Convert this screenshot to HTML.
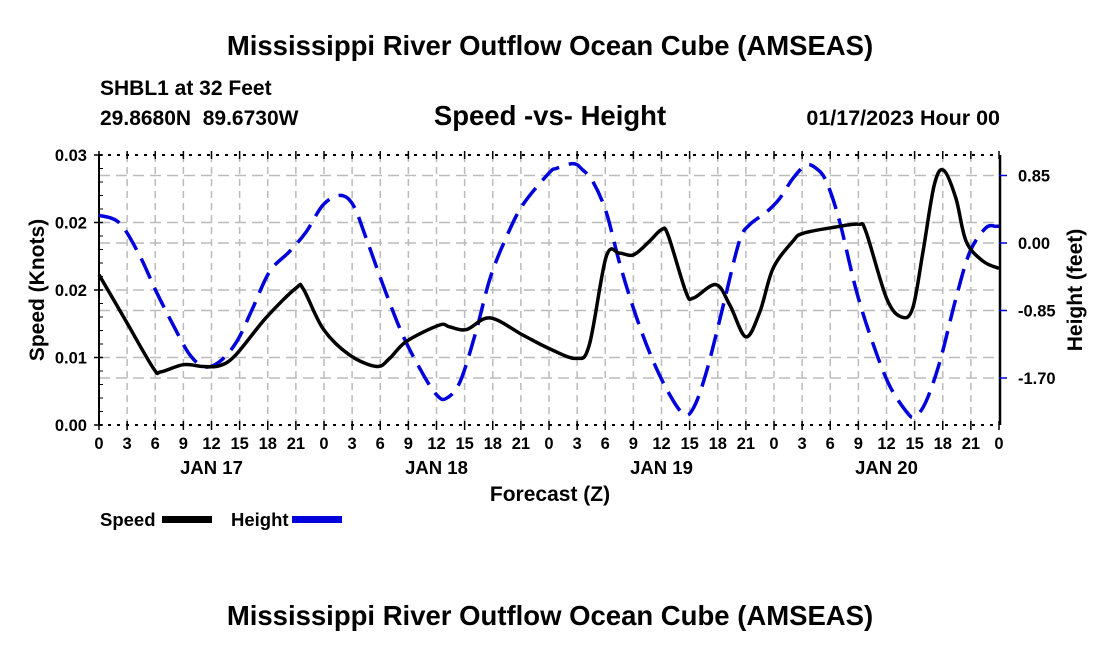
<!DOCTYPE html>
<html><head><meta charset="utf-8"><style>
body{margin:0;background:#fff;}
svg{display:block;font-family:"Liberation Sans",Arial,sans-serif;font-weight:bold;}
</style></head><body>
<svg id="chart" width="1100" height="650" viewBox="0 0 1100 650">
<text x="550" y="55" text-anchor="middle" font-size="27.5">Mississippi River Outflow Ocean Cube (AMSEAS)</text>
<text x="100" y="95" font-size="21">SHBL1 at 32 Feet</text>
<text x="100" y="125" font-size="21" xml:space="preserve">29.8680N  89.6730W</text>
<text x="550" y="125" text-anchor="middle" font-size="27.5">Speed -vs- Height</text>
<text x="1000" y="125" text-anchor="end" font-size="21.5">01/17/2023 Hour 00</text>
<g id="grid"></g>
<g id="axes"></g>
<g id="series"></g>
<text x="550" y="501" text-anchor="middle" font-size="21">Forecast (Z)</text>
<text transform="translate(44,290) rotate(-90)" text-anchor="middle" font-size="21">Speed (Knots)</text>
<text transform="translate(1082,290) rotate(-90)" text-anchor="middle" font-size="21">Height (feet)</text>
<g>
<text x="100" y="526" font-size="18.5">Speed</text>
<rect x="162" y="516" width="50" height="7" fill="#000"/>
<text x="231" y="526" font-size="18.5">Height</text>
<rect x="292" y="516" width="50" height="7" fill="#0000dd"/>
</g>
<text x="550" y="625" text-anchor="middle" font-size="27.5">Mississippi River Outflow Ocean Cube (AMSEAS)</text>
</svg>
<script>
const speedHours=[0,2.9,5.8,6.6,9,11.1,12.9,14.6,17.8,21.0,21.8,23.9,26.7,29.6,31,32.8,36.3,37.4,39.2,41.7,45.2,48,50.9,52.3,54.1,55.5,57.0,58.7,60.0,60.7,62.6,63.4,65.8,67.3,69.0,70.5,71.9,74.0,75.1,78.6,81.0,81.8,84.0,85.6,86.8,87.9,89.1,90.1,91.4,92.5,94.3,96];
const speedValues=[0.0167,0.0115,0.0063,0.0059,0.0067,0.0065,0.0066,0.0078,0.0119,0.0152,0.0151,0.0107,0.0078,0.0065,0.0074,0.0093,0.0111,0.0109,0.0106,0.0119,0.0100,0.0085,0.0074,0.0089,0.0187,0.0191,0.0189,0.0204,0.0217,0.0211,0.0148,0.0141,0.0156,0.0133,0.0098,0.0126,0.0174,0.0204,0.0213,0.0220,0.0223,0.0215,0.0141,0.0120,0.0130,0.0193,0.0267,0.0283,0.0252,0.0204,0.0182,0.0174];
const heightHours=[0,2.2,4.3,6.1,7.9,9.7,11.3,12.9,14.7,16.4,18.2,20.3,22.1,23.9,25.7,27.1,28.5,30.3,32.4,34.6,36.0,37.0,38.5,40.2,41.7,43.4,45.2,48.0,48.8,50.6,51.6,52.7,54.1,55.5,57.0,58.7,60.5,62.3,63.4,64.8,66.6,68.3,69.4,71.2,72.6,74.0,75.4,76.5,77.6,79.0,80.8,82.6,84.3,86.1,87.0,88.2,89.7,91.4,92.9,94.6,95.7,96];
const heightValues=[0.35,0.25,-0.15,-0.61,-1.03,-1.41,-1.56,-1.49,-1.24,-0.82,-0.36,-0.11,0.14,0.48,0.60,0.48,0.06,-0.53,-1.16,-1.66,-1.91,-1.96,-1.75,-1.12,-0.45,0.06,0.48,0.88,0.94,1.00,0.92,0.77,0.39,-0.24,-0.82,-1.37,-1.83,-2.15,-2.08,-1.62,-0.78,0.02,0.23,0.39,0.56,0.81,0.98,0.94,0.77,0.27,-0.61,-1.28,-1.79,-2.12,-2.19,-2.00,-1.49,-0.70,-0.11,0.19,0.21,0.21];
const leftTicks=[0,0.0075,0.015,0.0225,0.03];
const leftTickLabels=["0.00","0.01","0.02","0.02","0.03"];
const rightTicks=[0.85,0,-0.85,-1.70];
const rightTickLabels=["0.85","0.00","-0.85","-1.70"];
const dayLabels=["JAN 17","JAN 18","JAN 19","JAN 20"];

const X0=99,X1=999,Y0=425,Y1=155,NS="http://www.w3.org/2000/svg";
const xs=h=>X0+(h/96)*(X1-X0);
const ysL=v=>Y0-(v/0.03)*(Y0-Y1);
const ysR=v=>243-v*(67.5/0.85);
function mk(tag,attrs,parent){const e=document.createElementNS(NS,tag);for(const k in attrs)e.setAttribute(k,attrs[k]);parent.appendChild(e);return e;}
const grid=document.getElementById('grid'),axes=document.getElementById('axes'),series=document.getElementById('series');
for(let h=3;h<96;h+=3){const l=mk('line',{x1:xs(h),x2:xs(h),y1:Y1,y2:Y0,stroke:'#bbb','stroke-width':1.5,'stroke-dasharray':'7,5'},grid);

}
leftTicks.slice(1,4).forEach(v=>{const l=mk('line',{x1:X0,x2:X1,y1:ysL(v),y2:ysL(v),stroke:'#bbb','stroke-width':1.5,'stroke-dasharray':'11,6'},grid);

});
rightTicks.forEach(v=>{const l=mk('line',{x1:X0,x2:X1,y1:ysR(v),y2:ysR(v),stroke:'#bbb','stroke-width':1.5,'stroke-dasharray':'11,6'},grid);

});
[[X0,Y1,X1,Y1],[X0,Y0,X1,Y0]].forEach(p=>{const l=mk('line',{x1:p[0],y1:p[1],x2:p[2],y2:p[3],stroke:'#000','stroke-width':2,'stroke-dasharray':'3,6'},axes);

});
const la=mk('line',{x1:X0,y1:Y1,x2:X0,y2:Y0,stroke:'#000','stroke-width':2},axes);


const ra=mk('line',{x1:X1+1,y1:Y1,x2:X1+1,y2:Y0,stroke:'#000','stroke-width':2.5},axes);


for(let h=0;h<=96;h+=3){
 mk('line',{x1:xs(h),x2:xs(h),y1:Y0-4,y2:Y0+5,stroke:'#000','stroke-width':1.5},axes);
 mk('line',{x1:xs(h),x2:xs(h),y1:Y1-4,y2:Y1+4,stroke:'#000','stroke-width':1.5},axes);
 const t=mk('text',{x:xs(h),y:449,'text-anchor':'middle','font-size':16.5},axes);t.textContent=String(h%24);
 
 }
dayLabels.forEach((d,i)=>{const t=mk('text',{x:xs(12+24*i),y:474,'text-anchor':'middle','font-size':18.5},axes);t.textContent=d;

});
leftTicks.forEach((v,i)=>{mk('line',{x1:X0-5,x2:X0+4,y1:ysL(v),y2:ysL(v),stroke:'#000','stroke-width':1.5},axes);
const t=mk('text',{x:87,y:ysL(v)+6,'text-anchor':'end','font-size':16.5},axes);t.textContent=leftTickLabels[i];

});
for(let k=1;k<20;k++){if(k%5)mk('line',{x1:X0,x2:X0+4,y1:ysL(0.0015*k),y2:ysL(0.0015*k),stroke:'#000','stroke-width':1},axes);}
rightTicks.forEach((v,i)=>{mk('line',{x1:X1,x2:X1+8,y1:ysR(v),y2:ysR(v),stroke:'#0000dd','stroke-width':1.5},axes);
const t=mk('text',{x:1018,y:ysR(v)+6,'font-size':16.5},axes);t.textContent=rightTickLabels[i];

});
function smooth(pts){let d=`M${pts[0][0]},${pts[0][1]}`;for(let i=0;i<pts.length-1;i++){const p0=pts[i-1]||pts[i],p1=pts[i],p2=pts[i+1],p3=pts[i+2]||p2;
d+=`C${p1[0]+(p2[0]-p0[0])/6},${p1[1]+(p2[1]-p0[1])/6} ${p2[0]-(p3[0]-p1[0])/6},${p2[1]-(p3[1]-p1[1])/6} ${p2[0]},${p2[1]}`;}return d;}
const hp=mk('path',{d:smooth(heightHours.map((h,i)=>[xs(h),ysR(heightValues[i])])),fill:'none',stroke:'#0000dd','stroke-width':3.5,'stroke-dasharray':'22,10'},series);


const sp=mk('path',{d:smooth(speedHours.map((h,i)=>[xs(h),ysL(speedValues[i])])),fill:'none',stroke:'#000','stroke-width':3.5},series);


</script>
</body></html>
